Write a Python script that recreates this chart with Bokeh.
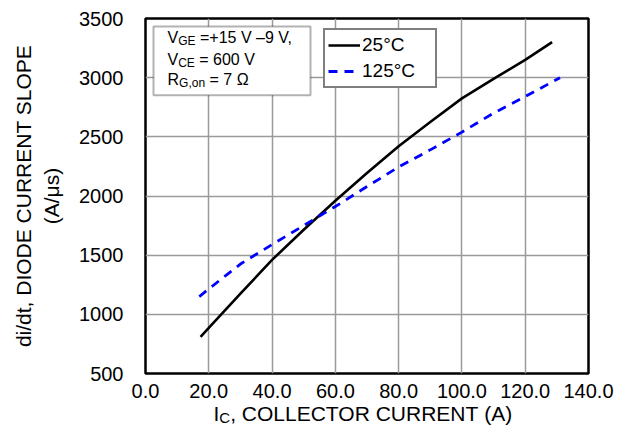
from bokeh.plotting import figure
from bokeh.layouts import column
from bokeh.models import (Range1d, FixedTicker, PrintfTickFormatter, Label,
                          BoxAnnotation, Legend, LegendItem)
from bokeh.embed import file_html
from bokeh.resources import INLINE

# ---------------- data ----------------
ic_25 = [17.4, 20, 30, 40, 50, 60, 70, 80, 90, 100, 110, 120, 128.5]
didt_25 = [810, 885, 1175, 1460, 1715, 1960, 2195, 2420, 2625, 2825, 2990, 3150, 3300]
ic_125 = [17, 20, 30, 40, 50, 60, 70, 80, 90, 100, 110, 120, 131]
didt_125 = [1150, 1215, 1425, 1590, 1750, 1911, 2080, 2245, 2390, 2540, 2700, 2840, 3000]

x_ticks = [0, 20, 40, 60, 80, 100, 120, 140]
y_ticks = [500, 1000, 1500, 2000, 2500, 3000, 3500]
legend_labels = ["25°C", "125°C"]
x_title = ("I", "C", ", COLLECTOR CURRENT (A)")
y_title = "di/dt, DIODE CURRENT SLOPE\n(A/μs)"
cond_lines = [("V", "GE", " =+15 V –9 V,"),
              ("V", "CE", " = 600 V"),
              ("R", "G,on", " = 7 Ω")]

FONT = "Liberation Sans"
NBSP = "\u00a0"

# ---------------- layout ----------------
W = 614
H1, H2 = 400, 27
FL, FR, FT, FB = 145, 588, 18, 374   # frame edges (pixels)
XMIN, XMAX, YMIN, YMAX = 0, 140, 500, 3500

def px_x(x):
    return XMIN + (x - FL) / (FR - FL) * (XMAX - XMIN)

def px_y(y):
    return YMIN + (FB - y) / (FB - FT) * (YMAX - YMIN)

# Arial / Liberation Sans advance widths (per 1000 em)
AW = {' ': 278, NBSP: 278, ',': 278, '(': 333, ')': 333, '/': 278, '.': 278,
      '=': 584, '+': 584, '–': 556, '°': 400, 'Ω': 768,
      'A': 667, 'C': 722, 'D': 722, 'E': 667, 'G': 778, 'I': 278, 'L': 556,
      'N': 722, 'O': 778, 'P': 667, 'R': 722, 'S': 667, 'T': 611, 'U': 722,
      'V': 667, 'n': 556, 'o': 556}
for d in "0123456789":
    AW[d] = 556

def tw(s, size):
    return sum(AW.get(c, 556) for c in s) / 1000.0 * size

def nb(s):
    return s.replace(" ", NBSP)

p = figure(width=W, height=H1, x_range=Range1d(XMIN, XMAX), y_range=Range1d(YMIN, YMAX),
           output_backend="svg", toolbar_location=None, title=None,
           min_border_left=FL, min_border_right=W - FR,
           min_border_top=FT, min_border_bottom=H1 - FB)
p.background_fill_color = "white"
p.border_fill_color = "white"
p.outline_line_color = "black"
p.outline_line_width = 2.5

# axes
p.xaxis.ticker = FixedTicker(ticks=x_ticks)
p.yaxis.ticker = FixedTicker(ticks=y_ticks)
p.xaxis.formatter = PrintfTickFormatter(format="%.1f")
p.yaxis.formatter = PrintfTickFormatter(format="%d")
for ax in (p.xaxis, p.yaxis):
    ax.axis_line_color = None
    ax.major_tick_line_color = None
    ax.minor_tick_line_color = None
    ax.major_label_text_font = FONT
    ax.major_label_text_font_size = "20px"
    ax.major_label_text_color = "black"
p.xaxis.major_label_standoff = 4
p.yaxis.major_label_standoff = 16
p.yaxis.axis_label = y_title
p.yaxis.axis_label_text_font = FONT
p.yaxis.axis_label_text_font_size = "21px"
p.yaxis.axis_label_text_font_style = "normal"
p.yaxis.axis_label_text_color = "black"
p.yaxis.axis_label_standoff = 13

p.grid.grid_line_color = "#9a9a9a"
p.grid.grid_line_width = 1.5

# curves
r25 = p.line(ic_25, didt_25, line_color="black", line_width=2.6)
r125 = p.line(ic_125, didt_125, line_color="#0000ff", line_width=2.8, line_dash="9 7")

legend = Legend(items=[LegendItem(label=legend_labels[0], renderers=[r25]),
                       LegendItem(label=legend_labels[1], renderers=[r125])],
                location=(323 - FL, FB - 89), orientation="vertical",
                border_line_color="black", border_line_width=2,
                background_fill_color="white", background_fill_alpha=1,
                label_text_font=FONT, label_text_font_size="19px",
                label_text_color="black",
                glyph_width=32, glyph_height=24, label_height=24, label_width=70,
                label_standoff=2, padding=3, spacing=2, margin=0)
p.add_layout(legend)

# conditions box
box = BoxAnnotation(left=px_x(153), right=px_x(310), top=px_y(26), bottom=px_y(95),
                    fill_color="white", fill_alpha=1, line_color="black", line_width=2,
                    level="annotation")
p.add_layout(box)

MAIN, SUB = 16, 12
baselines = [37, 59, 79]   # compensated for the renderer's baseline shift
for (a, b, c), by in zip(cond_lines, baselines):
    x0 = px_x(167)
    y0 = px_y(by)
    p.add_layout(Label(x=x0, y=y0, text=a, text_font=FONT, text_font_size=f"{MAIN}px",
                       text_baseline="alphabetic", text_align="left", text_color="black"))
    off1 = tw(a, MAIN)
    p.add_layout(Label(x=x0, y=y0, x_offset=off1, y_offset=-4, text=b, text_font=FONT,
                       text_font_size=f"{SUB}px", text_baseline="alphabetic",
                       text_align="left", text_color="black"))
    off2 = off1 + tw(b, SUB)
    p.add_layout(Label(x=x0, y=y0, x_offset=off2, text=nb(c), text_font=FONT,
                       text_font_size=f"{MAIN}px", text_baseline="alphabetic",
                       text_align="left", text_color="black"))

# x axis title (with subscript) drawn in a strip figure below the chart;
# its frame is aligned with the chart's frame, so it shares the x range.
p2 = figure(width=W, height=H2, x_range=p.x_range, y_range=Range1d(0, H2),
            output_backend="svg", toolbar_location=None, title=None,
            min_border_left=FL, min_border_right=W - FR,
            min_border_top=0, min_border_bottom=0)
p2.axis.visible = False
p2.grid.visible = False
p2.outline_line_color = None
p2.background_fill_color = "white"
p2.border_fill_color = "white"

XS, XSUB = 21, 15
total = tw(x_title[0], XS) + tw(x_title[1], XSUB) + tw(x_title[2], XS)
x_left = px_x(362.5)
drop = 13     # baseline distance below the top of the strip, in pixels
kw = dict(text_baseline="alphabetic", text_align="left", text_color="black", text_font=FONT)
p2.add_layout(Label(x=x_left, y=H2, x_offset=-total / 2, y_offset=-drop, text=x_title[0],
                    text_font_size=f"{XS}px", **kw))
o1 = -total / 2 + tw(x_title[0], XS)
p2.add_layout(Label(x=x_left, y=H2, x_offset=o1, y_offset=-drop - 3.5, text=x_title[1],
                    text_font_size=f"{XSUB}px", **kw))
o2 = o1 + tw(x_title[1], XSUB)
p2.add_layout(Label(x=x_left, y=H2, x_offset=o2, y_offset=-drop, text=nb(x_title[2]),
                    text_font_size=f"{XS}px", **kw))

layout = column(p, p2, spacing=0)
open("out.html", "w").write(file_html(layout, INLINE))
